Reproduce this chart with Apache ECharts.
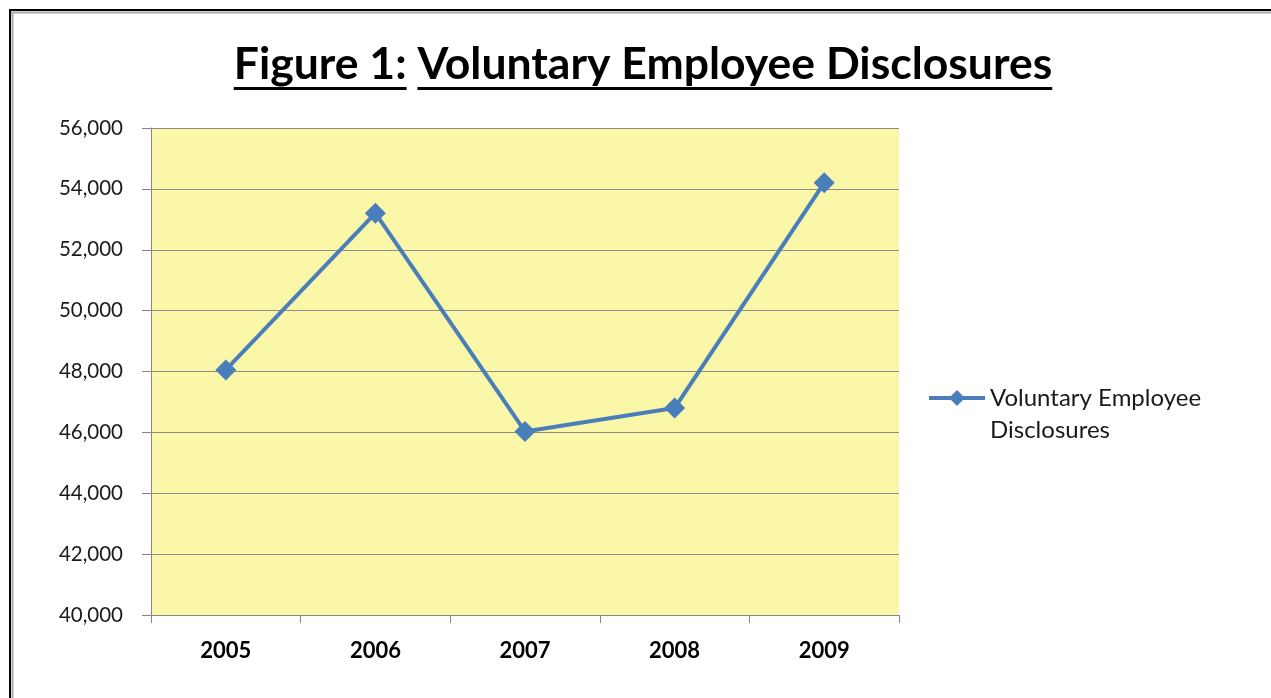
<!DOCTYPE html>
<html>
<head>
<meta charset="utf-8">
<script src="https://cdn.jsdelivr.net/npm/echarts@6/dist/echarts.min.js"></script>
<style>
html,body{margin:0;padding:0;background:#fff;}
#chart{width:1271px;height:698px;}
</style>
</head>
<body>
<div id="chart"></div>
<script>
const categories = ['2005', '2006', '2007', '2008', '2009'];
const disclosures = [48050, 53200, 46030, 46800, 54200];
const seriesName = 'Voluntary Employee Disclosures';
const legendLines = ['Voluntary Employee', 'Disclosures'];
const titleLead = 'Figure 1:';
const titleRest = 'Voluntary Employee Disclosures';

const FONT = 'Lato';
const titleSize = 44.5;
const titleFont = 'bold ' + titleSize + 'px ' + FONT;
const cvs = document.createElement('canvas').getContext('2d');
cvs.font = titleFont;
const wLead = cvs.measureText(titleLead).width;
const wLeadSp = cvs.measureText(titleLead + ' ').width;
const wAll = cvs.measureText(titleLead + ' ' + titleRest).width;
const cx = 643;
const x0 = cx - wAll / 2;
const ulY = 87;

const chart = echarts.init(document.getElementById('chart'), null, {renderer: 'canvas'});
chart.setOption({
  animation: false,
  backgroundColor: '#fff',
  textStyle: {fontFamily: FONT},
  graphic: [
    {type: 'line', shape: {x1: 9, y1: 10, x2: 1271, y2: 10}, style: {stroke: '#000', lineWidth: 2}},
    {type: 'line', shape: {x1: 10, y1: 10, x2: 10, y2: 698}, style: {stroke: '#000', lineWidth: 2}},
    {type: 'line', shape: {x1: 11, y1: 12.5, x2: 1271, y2: 12.5}, style: {stroke: '#aaa', lineWidth: 2}},
    {type: 'line', shape: {x1: 12.5, y1: 12, x2: 12.5, y2: 698}, style: {stroke: '#aaa', lineWidth: 2}},
    {type: 'text', x: cx, y: 65, style: {text: titleLead + ' ' + titleRest, font: titleFont, fill: '#000', align: 'center', verticalAlign: 'middle'}},
    {type: 'rect', shape: {x: x0, y: ulY, width: wLead, height: 3}, style: {fill: '#000'}},
    {type: 'rect', shape: {x: x0 + wLeadSp, y: ulY, width: wAll - wLeadSp, height: 3}, style: {fill: '#000'}}
  ],
  grid: {left: 151, right: 372, top: 128, bottom: 83, show: true, backgroundColor: '#FAF8A8', borderWidth: 0},
  legend: {
    show: true,
    left: 922,
    top: 345,
    itemWidth: 56,
    itemHeight: 20,
    itemGap: 0,
    lineStyle: {width: 4},
    formatter: function () { return ' \n' + legendLines.join('\n'); },
    textStyle: {fontSize: 24, color: '#1a1a1a', lineHeight: 32, fontFamily: FONT}
  },
  xAxis: {
    type: 'category',
    data: categories,
    boundaryGap: true,
    axisLine: {show: true, lineStyle: {color: '#868686', width: 1}},
    axisTick: {show: true, length: 8, lineStyle: {color: '#868686'}},
    axisLabel: {fontSize: 22, fontWeight: 'bold', color: '#000', margin: 25, fontFamily: FONT},
    splitLine: {show: false}
  },
  yAxis: {
    type: 'value',
    min: 40000,
    max: 56000,
    interval: 2000,
    axisLine: {show: true, lineStyle: {color: '#868686', width: 1}},
    axisTick: {show: true, length: 9, lineStyle: {color: '#868686'}},
    axisLabel: {fontSize: 20.5, color: '#1a1a1a', margin: 28, fontFamily: FONT,
      formatter: function (v) { return v.toLocaleString('en-US'); }},
    splitLine: {show: true, lineStyle: {color: '#8c8c8c', width: 1}}
  },
  series: [{
    name: seriesName,
    type: 'line',
    data: disclosures,
    symbol: 'diamond',
    symbolSize: 21,
    lineStyle: {color: '#4A7EBB', width: 4},
    itemStyle: {color: '#4A7EBB'}
  }]
});
</script>
</body>
</html>
